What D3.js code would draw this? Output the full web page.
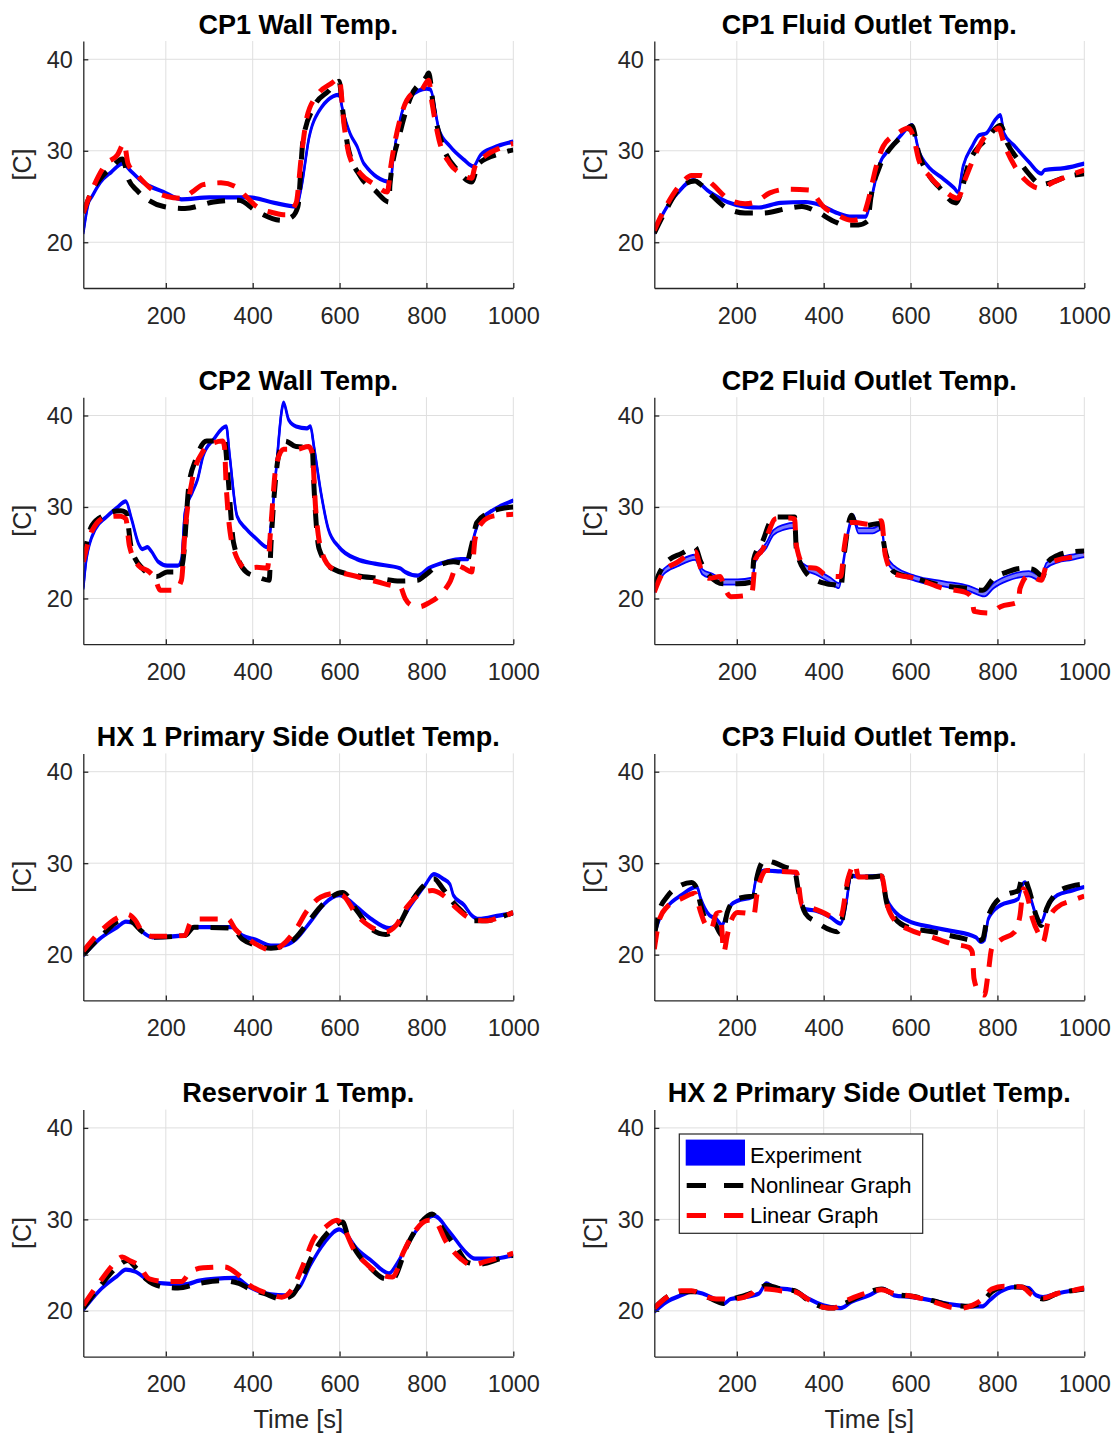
<!DOCTYPE html>
<html>
<head>
<meta charset="utf-8">
<script src="https://cdn.jsdelivr.net/npm/d3@7"></script>
<style>
  body { margin: 0; background: #fff; }
  svg { display: block; }
  text { font-family: "Liberation Sans", Arial, Helvetica, sans-serif; }
</style>
</head>
<body>
<svg id="fig" width="1117" height="1437"></svg>
<script>
// ---- Measured temperatures [C] vs time [s]: [t, T] pairs ----

// CP1 wall
const cp1WallExp = [[10,21.0],[22,24.3],[30,25.0],[50,26.6],[75,27.7],[100,28.6],[121,27.7],[146,26.6],[195,25.5],[236,24.7],[300,24.9],[393,24.9],[450,24.3],[500,23.9],[512,26],[530,31.5],[545,33.7],[599,36.1],[607,34.5],[625,31.8],[640,30.5],[656,28.6],[718,26.6],[722,28.5],[740,33.5],[755,35.6],[764,36],[800,36.8],[809,36.7],[829,32.3],[854,30.5],[887,29],[908,28.3],[924,29.5],[953,30.3],[1000,31.0]];
const cp1WallNl = [[10,23.2],[30,25.6],[50,27],[75,28.2],[100,29.1],[104,28.8],[113,27],[133,25.7],[160,24.6],[195,23.9],[244,23.7],[310,24.4],[368,24.6],[409,23.4],[467,22.4],[491,22.8],[504,23.9],[516,31.2],[541,34.8],[574,36.5],[599,37.6],[607,34.5],[619,30.5],[648,27.2],[681,25.7],[714,24.4],[716,26.3],[739,31.9],[764,35.9],[800,38.1],[805,38.5],[817,34.5],[838,30.5],[871,27.9],[904,26.6],[920,28.6],[970,29.7],[1000,30.1]];
const cp1WallLin = [[10,23.2],[30,25.7],[63,28.6],[88,29.5],[104,30.8],[113,28.6],[137,27.2],[170,25.7],[203,25],[236,24.8],[261,25.5],[286,26.3],[327,26.5],[360,26.1],[385,25],[409,23.9],[450,23.2],[475,23],[500,24.3],[512,29.4],[525,33.7],[549,36.1],[582,37.4],[599,37.9],[611,32.6],[623,29.4],[648,27.5],[681,26.3],[710,25.5],[718,28.3],[739,33.4],[764,36.1],[788,36.6],[805,37.7],[813,35.2],[829,31.2],[854,28.6],[879,27.5],[904,27],[912,28.3],[937,29.5],[970,30.3],[1000,30.8]];

// CP1 fluid outlet
const cp1FluidExp = [[10,21],[31,23.2],[64,25.4],[100,26.8],[137,25.5],[178,24.4],[219,23.9],[251,23.8],[300,24.3],[358,24.4],[390,24.1],[431,23.2],[464,22.8],[497,22.8],[505,23.9],[529,28.6],[554,30.3],[578,31.7],[603,32.8],[619,30],[644,28.1],[668,27.2],[701,25.9],[709,25.5],[721,28.3],[742,30.5],[758,31.7],[774,31.9],[795,33.4],[807,33.9],[815,31.9],[840,30.5],[872,28.8],[901,27.5],[909,27.9],[954,28.1],[1000,28.6]];
const cp1FluidNl = [[10,21],[39,23.7],[72,26.1],[104,26.7],[117,26.3],[145,25],[178,23.7],[219,23.2],[260,23.2],[317,23.7],[350,23.9],[382,23.4],[423,22.3],[448,21.9],[480,21.9],[501,22.3],[509,25],[529,28.3],[554,30.3],[578,31.5],[603,32.7],[619,29.7],[644,27.2],[668,25.9],[697,24.4],[705,24.3],[713,25],[734,28.6],[758,30.5],[774,31.2],[799,32.6],[807,32.8],[823,30.8],[848,29],[872,27.5],[901,26.3],[921,26.5],[962,27.2],[1000,27.5]];
const cp1FluidLin = [[10,21.3],[39,24.1],[72,26.4],[96,27.3],[117,27.3],[145,26.3],[178,24.8],[219,24.2],[243,24.4],[276,25.4],[317,25.8],[366,25.7],[378,25.2],[399,23.9],[431,23],[464,22.4],[488,22.6],[501,24.3],[521,28.3],[537,30.5],[570,31.9],[595,32.5],[607,31.5],[619,29],[644,27.2],[676,25.7],[709,24.8],[725,26.8],[750,29.7],[766,31.2],[791,32.1],[803,32.5],[815,30.8],[840,28.3],[864,26.8],[897,25.9],[930,26.6],[971,27.4],[1000,27.9]];

// CP2 wall
const cp2WallExp = [[10,21.1],[17,24.3],[38,27.6],[63,28.9],[87,29.9],[108,30.6],[121,28.7],[137,26],[146,25.4],[158,25.6],[166,25.2],[183,24],[203,23.6],[228,23.6],[236,24.3],[244,29.4],[261,31.6],[273,33],[286,35.6],[310,37.4],[339,38.8],[347,35.6],[364,29],[385,27.6],[409,26.5],[434,25.6],[442,28],[454,34.1],[467,40.6],[471,41.4],[483,39.5],[500,38.8],[525,38.6],[533,38.8],[541,36.6],[557,31.6],[574,27.6],[599,25.6],[640,24.3],[681,23.8],[739,23.3],[751,22.9],[780,22.5],[805,23.3],[846,24],[879,24.3],[895,24.3],[904,25.8],[920,28.3],[945,29.4],[970,30.1],[1000,30.7]];
const cp2WallNl = [[10,24.3],[30,28],[63,29.2],[96,29.6],[108,29.4],[121,25.4],[146,23.3],[179,22.4],[203,22.9],[232,22.9],[240,24.3],[253,32.3],[269,35.2],[294,37.2],[335,37.2],[343,33.4],[356,26.1],[385,22.9],[409,22.4],[438,22],[442,25.8],[454,33.7],[467,36.8],[475,37.2],[500,36.6],[537,36.5],[541,32.3],[553,25.4],[582,23.3],[640,22.5],[689,22.2],[739,21.9],[780,22],[796,22.5],[821,23.4],[862,24],[891,23.8],[904,25.8],[916,28.3],[945,29.4],[970,29.8],[1000,30]];
const cp2WallLin = [[10,24],[30,27.4],[63,28.9],[96,29],[108,28.7],[116,25.8],[137,23.6],[162,22.9],[175,22.2],[187,20.9],[220,20.9],[236,22],[244,27.2],[261,33],[286,36.1],[310,37],[331,37.2],[335,36.6],[339,32.3],[356,25.4],[385,23.3],[409,23.4],[434,23.3],[442,28],[454,34.5],[471,36.3],[500,36.3],[529,36.6],[537,35.9],[545,29.8],[557,25.4],[582,23.3],[640,22.4],[689,21.8],[722,21.4],[739,21.3],[751,20],[764,19.3],[784,19.1],[805,19.5],[838,20.7],[854,21.8],[871,23.6],[887,23.3],[904,22.9],[912,26.5],[928,28.3],[953,29],[1000,29.2]];

// CP2 fluid outlet
const cp2FluidExp = [[10,20.9],[31,22.9],[64,23.8],[104,24.5],[121,22.9],[145,22.4],[170,21.8],[202,21.8],[235,22],[243,24.3],[268,25.8],[284,27.2],[309,27.8],[333,28],[337,25.8],[350,23.6],[382,22.9],[415,22],[435,21.4],[444,23.6],[456,27.2],[468,28.9],[480,27.4],[513,27.4],[533,27.8],[542,24.7],[562,23.3],[611,22.2],[676,21.6],[734,21.1],[770,20.5],[791,21.4],[823,22.2],[872,22.7],[901,22.2],[913,23.6],[938,24.2],[971,24.5],[1000,24.8]];
const cp2FluidNl = [[10,21.4],[23,22.9],[39,24],[72,24.9],[104,25.6],[117,24],[137,22.5],[170,21.6],[202,21.6],[235,21.8],[239,24.3],[260,26.3],[276,28.3],[292,28.9],[333,28.9],[337,25.4],[358,22.9],[382,22],[407,21.6],[431,21.4],[439,21.1],[448,25.1],[464,29.1],[472,28.3],[497,28],[529,28.2],[542,25.1],[562,22.9],[611,22.2],[676,21.4],[734,21.1],[766,20.9],[791,22.2],[823,22.9],[856,23.3],[881,23.2],[905,22.4],[913,23.8],[938,24.7],[971,25.1],[1000,25.2]];
const cp2FluidLin = [[10,20.7],[31,22.9],[64,24],[104,25.1],[117,23.3],[137,22.2],[162,22.4],[170,21.4],[186,20.2],[219,20.3],[235,20.7],[243,24.3],[260,25.4],[276,27.6],[288,28.7],[317,28.8],[333,28.7],[337,25.8],[358,23.4],[382,23.3],[407,22.5],[439,22.4],[448,25.8],[460,28.3],[472,28.3],[505,28.1],[533,28.5],[542,24.7],[562,22.7],[611,22.2],[676,21.1],[725,20.7],[742,20],[746,18.6],[783,18.4],[807,19.1],[848,19.6],[852,21.1],[872,22.5],[901,22],[913,23.6],[938,24.2],[971,24.5],[1000,24.7]];

// HX 1 primary side outlet
const hx1Exp = [[10,19.9],[47,21.7],[88,23],[108,23.6],[129,23.4],[146,22.5],[170,21.9],[244,22.1],[265,23],[352,23],[376,22.1],[409,21.6],[442,21],[467,21],[500,21.7],[533,23.6],[566,25.6],[599,26.5],[611,26.3],[640,25.2],[673,23.9],[714,22.9],[739,23.6],[764,25.4],[797,27.6],[817,28.8],[838,28.3],[854,27.7],[862,26.5],[887,25.4],[904,24.3],[920,23.9],[970,24.3],[1000,24.5]];
const hx1Nl = [[10,20],[55,22.2],[96,23.7],[116,23.7],[146,22.5],[170,21.9],[244,22.1],[265,23],[352,22.9],[376,21.7],[409,21],[442,20.7],[475,21],[500,21.9],[533,23.9],[566,25.7],[607,26.8],[640,24.8],[673,22.8],[706,22.2],[730,22.8],[764,25.7],[797,27.7],[817,28.3],[838,27.2],[862,25.7],[887,24.5],[904,23.7],[937,23.7],[970,24.1],[1000,24.6]];
const hx1Lin = [[10,20.4],[55,22.8],[88,24],[112,24.4],[129,23.8],[146,22.5],[170,22],[244,22.1],[257,23.5],[277,23.9],[343,23.9],[360,22.8],[393,21.6],[426,20.7],[442,20.5],[467,21],[500,22.8],[525,24.8],[557,26.3],[590,26.7],[607,26.5],[640,24.3],[673,23],[706,22.5],[730,23.2],[755,25.2],[788,26.7],[813,27],[838,26.5],[871,25],[904,23.9],[937,23.7],[970,24.1],[1000,24.6]];

// CP3 fluid outlet
const cp3FluidExp = [[10,22.1],[23,24],[39,25.2],[72,26.5],[108,27.4],[117,26.1],[137,24.3],[153,23.9],[166,23.2],[174,24.1],[186,25.4],[202,25.9],[235,26.3],[247,28.8],[264,29.2],[300,29.1],[333,29],[341,27.2],[354,25],[382,24.8],[415,24.1],[439,23.4],[448,24.6],[464,28.6],[488,28.5],[529,28.6],[545,26.1],[562,24.8],[594,23.7],[651,23],[693,22.6],[750,21.9],[762,21.4],[770,21.6],[779,23.9],[807,25.4],[848,26.1],[856,27.5],[864,27.9],[877,26.1],[889,24.3],[901,23.6],[913,25],[938,26.5],[971,27],[1000,27.4]];
const cp3FluidNl = [[10,22.1],[23,25],[39,26.3],[72,27.6],[96,27.9],[108,27.2],[117,25.4],[133,23.6],[145,23.6],[166,22.1],[178,24.6],[194,25.9],[219,26.3],[239,26.4],[247,28.6],[264,30.3],[284,30.1],[309,29.6],[333,29.2],[341,27.2],[358,24.5],[382,23.6],[415,22.7],[431,22.5],[439,23],[448,25.4],[460,28.6],[480,28.5],[513,28.5],[533,28.6],[545,25.7],[562,24.1],[594,23],[651,22.5],[709,21.9],[754,21.5],[766,21.7],[775,23.6],[791,25.4],[823,26.6],[848,27],[856,28.3],[860,28.5],[872,27.2],[889,24.3],[901,23.2],[913,25],[938,26.8],[971,27.5],[1000,27.7]];
const cp3FluidLin = [[10,20.6],[23,24],[39,25.2],[72,26.1],[104,26.7],[108,26.1],[117,24.6],[129,23.2],[141,22.8],[153,24.5],[162,24.6],[170,20.3],[178,22.1],[186,23.6],[202,24.6],[227,24.5],[239,24.3],[247,26.8],[268,29.2],[300,29.1],[337,29],[350,25.4],[366,25.2],[399,24.6],[423,24.1],[439,24.1],[456,28.3],[472,29.9],[480,28.5],[513,28.5],[533,28.6],[545,25.7],[566,23.6],[594,22.8],[651,21.9],[693,21.2],[734,20.8],[742,20.3],[746,17.4],[758,15.9],[770,15.6],[779,18.1],[787,20.7],[807,21.6],[840,22.5],[852,24.3],[860,27.2],[868,26.5],[881,23.9],[897,22.1],[905,21.4],[917,23.7],[938,25.2],[971,25.9],[1000,26.4]];

// Reservoir 1
const res1Exp = [[10,20.1],[47,22.2],[88,23.8],[108,24.5],[129,24.3],[162,23.3],[195,23],[244,22.9],[277,23.3],[310,23.5],[360,23.6],[393,22.6],[442,21.8],[475,21.7],[508,22.6],[533,25],[566,27.5],[599,28.9],[611,28.6],[640,26.8],[673,25.5],[714,24.1],[730,25],[764,27.9],[797,29.9],[817,30.4],[854,28.6],[887,26.6],[912,25.7],[953,25.7],[1000,26.1]];
const res1Nl = [[10,20.3],[47,22.6],[88,24.8],[112,25.5],[133,24.6],[154,23.5],[195,22.6],[228,22.5],[277,23],[327,23.3],[368,23],[393,22.4],[426,21.9],[467,21.3],[491,21.7],[516,23.8],[541,26.4],[574,28.6],[607,29.7],[619,28.2],[640,26.4],[673,24.6],[706,23.5],[722,23.5],[755,27.1],[788,29.7],[813,30.6],[838,28.9],[871,26.8],[895,25.3],[920,25.1],[970,25.7],[1000,26.1]];
const res1Lin = [[10,20.6],[47,23.1],[80,25.1],[100,25.9],[116,25.5],[137,25],[162,23.5],[203,23.2],[236,23.2],[257,24.3],[286,24.7],[335,24.8],[368,23.9],[393,22.8],[434,21.9],[467,21.5],[491,22.4],[516,25],[541,27.9],[566,29.1],[594,29.9],[607,29.3],[632,26.8],[665,25],[698,23.9],[722,23.7],[747,26.4],[772,28.6],[805,29.9],[817,29.9],[846,27.5],[879,25.7],[904,25],[937,25.4],[1000,26.3]];

// HX 2 primary side outlet
const hx2Exp = [[10,19.9],[39,21],[72,21.7],[96,22.1],[121,21.9],[153,21.2],[170,20.8],[186,21.3],[219,21.5],[251,21.9],[268,23],[284,22.6],[333,22.2],[366,21.3],[399,20.6],[439,20.3],[464,21],[505,21.7],[537,22.4],[562,21.7],[603,21.5],[652,21.1],[693,20.7],[734,20.5],[766,20.5],[783,21.2],[807,22.1],[840,22.6],[872,22.5],[889,21.7],[905,21.5],[938,21.9],[971,22.2],[1000,22.4]];
const hx2Nl = [[10,20.3],[39,21.5],[72,22.1],[104,22.1],[137,21.4],[170,20.8],[186,21.2],[219,21.7],[247,22.2],[268,22.8],[300,22.4],[333,22.2],[366,21.1],[399,20.4],[423,20.3],[448,20.8],[488,21.7],[533,22.4],[562,21.8],[603,21.6],[652,21.1],[693,20.6],[734,20.5],[766,21],[787,22.1],[815,22.6],[856,22.6],[889,21.5],[905,21.3],[938,21.9],[971,22.2],[1000,22.4]];
const hx2Lin = [[10,20.3],[39,21.5],[72,22.2],[96,22.2],[121,21.7],[153,21.3],[170,21.3],[194,21.3],[235,21.9],[247,22.4],[268,22.4],[300,22.2],[333,22.1],[366,21.2],[399,20.4],[423,20.3],[448,21],[488,21.8],[533,22.3],[562,21.9],[603,21.6],[652,21],[693,20.4],[717,20.3],[742,20.6],[766,21.3],[787,22.4],[815,22.7],[856,22.6],[881,21.7],[905,21.4],[938,21.9],[971,22.2],[1000,22.5]];

// Panel titles (row-major, two columns)
const titles = [
  "CP1 Wall Temp.", "CP1 Fluid Outlet Temp.",
  "CP2 Wall Temp.", "CP2 Fluid Outlet Temp.",
  "HX 1 Primary Side Outlet Temp.", "CP3 Fluid Outlet Temp.",
  "Reservoir 1 Temp.", "HX 2 Primary Side Outlet Temp."
];
const experimentData = [cp1WallExp, cp1FluidExp, cp2WallExp, cp2FluidExp, hx1Exp, cp3FluidExp, res1Exp, hx2Exp];
const nonlinearData  = [cp1WallNl, cp1FluidNl, cp2WallNl, cp2FluidNl, hx1Nl, cp3FluidNl, res1Nl, hx2Nl];
const linearData     = [cp1WallLin, cp1FluidLin, cp2WallLin, cp2FluidLin, hx1Lin, cp3FluidLin, res1Lin, hx2Lin];
// half-width of the measured band [C]
const experimentSpread = [0.1, 0.1, 0.1, 0.28, 0.1, 0.1, 0.1, 0.1];

const legendLabels = ["Experiment", "Nonlinear Graph", "Linear Graph"];
const xTicks = [200, 400, 600, 800, 1000];
const yTicks = [20, 30, 40];
const xDomain = [10, 1000];
const yDomain = [15, 42];

// ---- Layout ----
const colLeft = [83.3, 654.3];
const plotW = 430;
const firstTop = 41;
const rowStep = 356.2;
const plotH = 247;
const axisColor = "#262626";
const gridColor = "#dfdfdf";
const blue = "#0000ff";

const svg = d3.select("#fig");
const line = d3.line().x(d => d.x).y(d => d.y).curve(d3.curveMonotoneX);

titles.forEach((title, i) => {
  const col = i % 2, row = Math.floor(i / 2);
  const left = colLeft[col], top = firstTop + row * rowStep;
  const x = d3.scaleLinear().domain(xDomain).range([0, plotW]);
  const y = d3.scaleLinear().domain(yDomain).range([plotH, 0]);
  const g = svg.append("g").attr("transform", `translate(${left},${top})`);

  // grid
  const grid = g.append("g").attr("stroke", gridColor).attr("stroke-width", 1);
  xTicks.forEach(t => grid.append("line")
    .attr("x1", x(t)).attr("x2", x(t)).attr("y1", 0).attr("y2", plotH));
  yTicks.forEach(t => grid.append("line")
    .attr("x1", 0).attr("x2", plotW).attr("y1", y(t)).attr("y2", y(t)));

  const clipId = "clip" + i;
  g.append("clipPath").attr("id", clipId).append("rect")
    .attr("x", 0).attr("y", 0).attr("width", plotW).attr("height", plotH);
  const plot = g.append("g").attr("clip-path", `url(#${clipId})`);

  const toXY = arr => arr.map(([t, v]) => ({ x: x(t), y: y(v) }));

  // experiment band
  const s = experimentSpread[i];
  const band = d3.area()
    .x(d => x(d[0])).y0(d => y(d[1] - s)).y1(d => y(d[1] + s))
    .curve(d3.curveMonotoneX);
  plot.append("path").datum(experimentData[i]).attr("d", band)
    .attr("fill", s > 0.2 ? "#7a7aff" : blue).attr("stroke", "none");
  [-s, s].forEach(off => {
    plot.append("path")
      .attr("d", line(experimentData[i].map(([t, v]) => ({ x: x(t), y: y(v + off) }))))
      .attr("fill", "none").attr("stroke", blue).attr("stroke-width", s > 0.2 ? 1.8 : 2.4);
  });

  // nonlinear graph model
  plot.append("path").attr("d", line(toXY(nonlinearData[i])))
    .attr("fill", "none").attr("stroke", "#000").attr("stroke-width", 5)
    .attr("stroke-dasharray", "18,12");

  // linear graph model
  plot.append("path").attr("d", line(toXY(linearData[i])))
    .attr("fill", "none").attr("stroke", "#ff0000").attr("stroke-width", 5)
    .attr("stroke-dasharray", "18,12");

  // axes
  const xAxis = d3.axisBottom(x).tickValues(xTicks).tickFormat(d3.format("d"))
    .tickSizeInner(-5).tickSizeOuter(0).tickPadding(19);
  const yAxis = d3.axisLeft(y).tickValues(yTicks).tickFormat(d3.format("d"))
    .tickSizeInner(-5).tickSizeOuter(0).tickPadding(10.5);
  const gx = g.append("g").attr("transform", `translate(0,${plotH})`).call(xAxis);
  const gy = g.append("g").call(yAxis);
  [gx, gy].forEach(a => {
    a.select(".domain").attr("stroke", axisColor).attr("stroke-width", 1.3);
    a.selectAll(".tick line").attr("stroke", axisColor).attr("stroke-width", 1.3);
    a.selectAll(".tick text").attr("fill", axisColor)
      .style("font-size", "23.5px").style("font-family", '"Liberation Sans", Arial, sans-serif');
  });
  gy.selectAll(".tick text").attr("dy", "0.34em");

  // title
  g.append("text").attr("x", plotW / 2).attr("y", -7.5)
    .attr("text-anchor", "middle").attr("font-weight", "bold")
    .attr("font-size", 27).attr("fill", "#000").text(title);

  // y label
  g.append("text").attr("transform", `translate(-52.3,${plotH / 2}) rotate(-90)`)
    .attr("text-anchor", "middle").attr("font-size", 25).attr("fill", axisColor).text("[C]");

  // x label on bottom row
  if (row === 3) {
    g.append("text").attr("x", plotW / 2).attr("y", plotH + 71.4)
      .attr("text-anchor", "middle").attr("font-size", 25.5).attr("fill", axisColor).text("Time [s]");
  }

  // legend in last panel
  if (i === titles.length - 1) {
    const lg = g.append("g").attr("transform", "translate(25,24.4)");
    lg.append("rect").attr("width", 243.4).attr("height", 99.3)
      .attr("fill", "#fff").attr("stroke", axisColor).attr("stroke-width", 1.2);
    const rowsY = [21.5, 51.5, 81.5];
    lg.append("rect").attr("x", 6.4).attr("y", 5.6).attr("width", 59.3).attr("height", 26)
      .attr("fill", blue);
    [["#000", rowsY[1]], ["#ff0000", rowsY[2]]].forEach(([c, yy]) => {
      lg.append("line").attr("x1", 7.4).attr("x2", 64).attr("y1", yy).attr("y2", yy)
        .attr("stroke", c).attr("stroke-width", 5).attr("stroke-dasharray", "19.3,18");
    });
    legendLabels.forEach((lab, k) => {
      lg.append("text").attr("x", 70.7).attr("y", rowsY[k]).attr("dy", "0.35em")
        .attr("font-size", 22).attr("fill", "#000").text(lab);
    });
  }
});
</script>
</body>
</html>
